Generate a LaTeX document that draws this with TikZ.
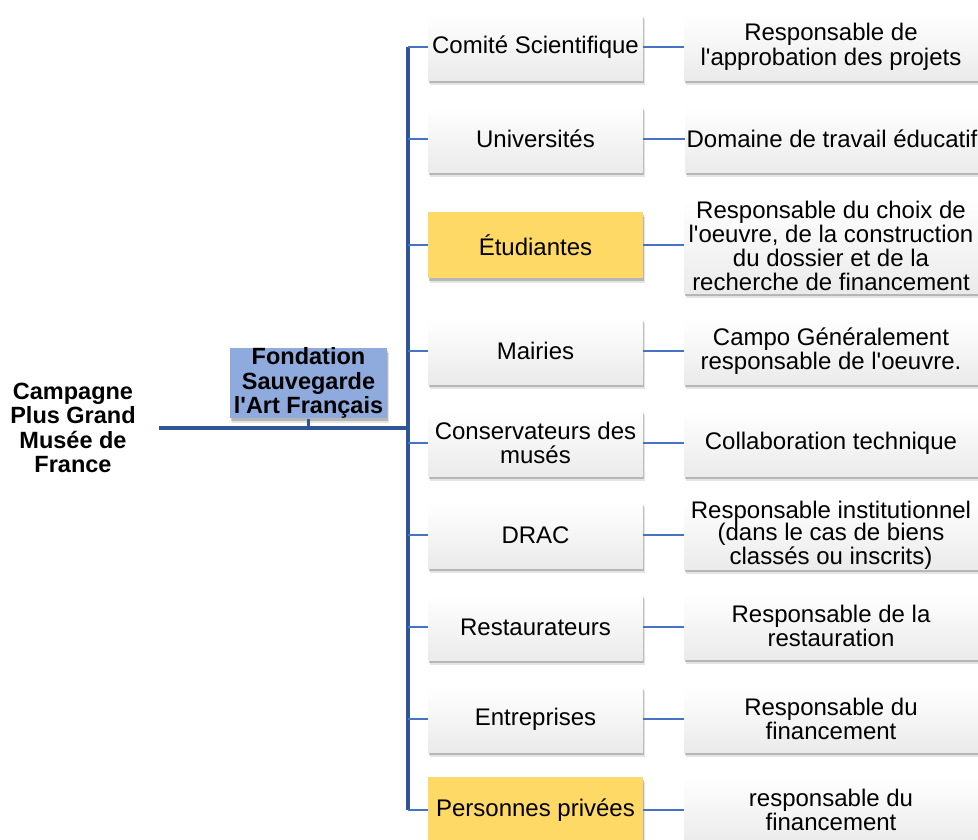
\documentclass[tikz,border=0pt]{standalone}
\usepackage{fontspec}
\setmainfont{Liberation Sans}
\usetikzlibrary{shadows}
\definecolor{trunkc}{HTML}{2F5597}
\definecolor{branchc}{HTML}{4472C4}
\definecolor{goldc}{HTML}{FFD966}
\definecolor{fondc}{HTML}{8FAADC}
\newcommand{\sq}{\textquotesingle}
\begin{document}
\begin{tikzpicture}[x=1pt,y=-1pt,
  txt/.style={font=\fontsize{24}{24.5}\selectfont, align=center},
  boldtxt/.style={font=\fontsize{23.5}{24.5}\selectfont\bfseries, align=center, inner sep=0pt},
  softshadow/.style={drop shadow={shadow xshift=1pt, shadow yshift=-3pt, opacity=0.3, fill=black!70},
                     drop shadow={shadow xshift=1.5pt, shadow yshift=-5pt, opacity=0.15, fill=black!70}},
  midbox/.style={txt, softshadow, minimum width=215pt, minimum height=66pt, inner sep=1pt,
                 top color=white, bottom color=gray!16},
  midgold/.style={txt, softshadow, minimum width=215pt, minimum height=66pt, inner sep=1pt, fill=goldc},
  rbox/.style={txt, softshadow, minimum width=294pt, minimum height=66pt, inner sep=0pt,
               top color=white, bottom color=gray!16},
  trunkline/.style={draw=trunkc, line width=3.4pt},
  branchline/.style={draw=branchc, line width=2.4pt}
]
\useasboundingbox (0,0) rectangle (978,839);

% left labels
\node[boldtxt, minimum width=172pt] (camp) at (73,428) {Campagne\\Plus Grand\\Musée de\\France};
\node[softshadow, fill=fondc, minimum width=157pt, minimum height=66pt, inner sep=0pt,
      boldtxt] (fond) at (308.5,383) {Fondation\\Sauvegarde\\l\sq Art Français};

% middle boxes
\node[midbox]  (m1) at (535.5,47)  {Comité Scientifique};
\node[midbox]  (m2) at (535.5,139) {Universités};
\node[midgold] (m3) at (535.5,245) {Étudiantes};
\node[midbox]  (m4) at (535.5,351) {Mairies};
\node[midbox]  (m5) at (535.5,443) {Conservateurs des\\musés};
\node[midbox]  (m6) at (535.5,535) {DRAC};
\node[midbox]  (m7) at (535.5,627) {Restaurateurs};
\node[midbox]  (m8) at (535.5,719) {Entreprises};
\node[midgold] (m9) at (535.5,810) {Personnes privées};

% right boxes
\node[rbox] (r1) at (831,47)  {Responsable de\\l\sq approbation des projets};
\node[rbox] (r2) at (832,139) {Domaine de travail éducatif};
\node[rbox, minimum height=94pt, font=\fontsize{24}{24}\selectfont] (r3) at (831,246) {Responsable du choix de\\l\sq oeuvre, de la construction\\du dossier et de la\\recherche de financement};
\node[rbox] (r4) at (831,351) {Campo Généralement\\responsable de l\sq oeuvre.};
\node[rbox] (r5) at (831,443) {Collaboration technique};
\node[rbox, font=\fontsize{24}{22.5}\selectfont] (r6) at (831,535) {Responsable institutionnel\\(dans le cas de biens\\classés ou inscrits)};
\node[rbox] (r7) at (831,626) {Responsable de la\\restauration};
\node[rbox] (r8) at (831,719) {Responsable du\\financement};
\node[rbox] (r9) at (831,810) {responsable du\\financement};

% connectors
\coordinate (tr) at (408,428);
\draw[trunkline] (camp.east) -- (camp.east -| tr);
\draw[trunkline, line width=2.4pt] (fond.south) -- (fond.south |- tr);
\draw[trunkline] (m1.west -| tr) -- (m9.west -| tr);
\foreach \i in {1,...,9}{
  \draw[branchline] (m\i.west -| tr) -- (m\i.west);
  \draw[branchline] (m\i.east) -- (m\i.east -| r\i.west);
}
\end{tikzpicture}
\end{document}
